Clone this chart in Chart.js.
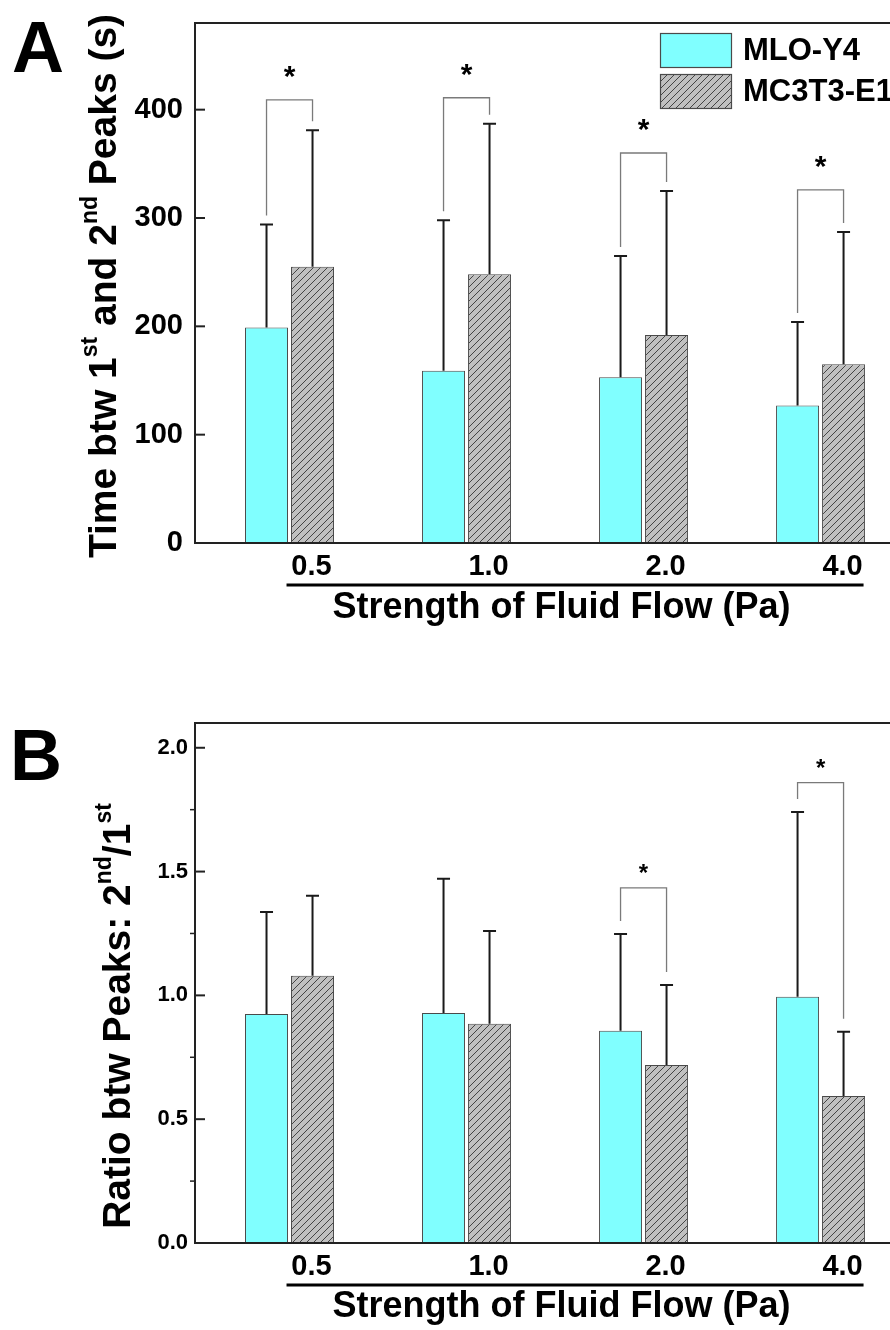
<!DOCTYPE html>
<html><head><meta charset="utf-8">
<script src="https://cdn.jsdelivr.net/npm/chart.js@4.4.0/dist/chart.umd.min.js"></script>
<style>
html,body{margin:0;padding:0;overflow:hidden;background:#fff;width:890px;height:1330px;}
#wrap{position:relative;width:890px;height:1330px;overflow:hidden;}
canvas{position:absolute;left:0;}
#cA{top:0;}
#cB{top:660px;}
.plab{position:absolute;font-family:"Liberation Sans",Arial,sans-serif;font-weight:bold;font-size:72px;line-height:72px;color:#000;}
</style></head>
<body><div id="wrap">
<canvas id="cA" width="930" height="650"></canvas>
<canvas id="cB" width="930" height="670"></canvas>
<div class="plab" style="left:12px;top:11px">A</div>
<div class="plab" style="left:10px;top:719px">B</div>
</div>
<script>
// ---------- data ----------
const categories = ['0.5', '1.0', '2.0', '4.0'];
const seriesNames = ['MLO-Y4', 'MC3T3-E1'];
const xTitle = 'Strength of Fluid Flow (Pa)';

const timeMLO = [199, 159, 153, 127];
const timeMLOErr = [95, 139, 112, 77];
const timeMC3 = [255, 248, 192, 165];
const timeMC3Err = [126, 139, 133, 122];
const timeSigLevel = [409, 411, 360, 326];
const timeTicks = [0, 100, 200, 300, 400];

const ratioMLO = [0.925, 0.929, 0.857, 0.994];
const ratioMLOErr = [0.412, 0.542, 0.391, 0.747];
const ratioMC3 = [1.079, 0.885, 0.719, 0.594];
const ratioMC3Err = [0.323, 0.375, 0.323, 0.259];
const ratioSigLevel = [null, null, 1.434, 1.859];
const ratioTicks = [0, 0.5, 1.0, 1.5, 2.0];
const ratioMinorTicks = [0.25, 0.75, 1.25, 1.75];

const yTitleA = [['Time btw 1', 0], ['st', 1], [' and 2', 0], ['nd', 1], [' Peaks (s)', 0]];
const yTitleB = [['Ratio btw Peaks: 2', 0], ['nd', 1], ['/1', 0], ['st', 1]];

// ---------- style ----------
const FF = '"Liberation Sans", Arial, Helvetica, sans-serif';
const CYAN = '#80ffff';

function makeHatch(ctx) {
  const s = 7;
  const c = document.createElement('canvas'); c.width = s; c.height = s;
  const g = c.getContext('2d');
  g.fillStyle = '#c0c0c0'; g.fillRect(0, 0, s, s);
  g.strokeStyle = '#444'; g.lineWidth = 1;
  g.beginPath();
  g.moveTo(-1, s + 1); g.lineTo(s + 1, -1);
  g.moveTo(-2, 2); g.lineTo(2, -2);
  g.moveTo(s - 2, s + 2); g.lineTo(s + 2, s - 2);
  g.stroke();
  return ctx.createPattern(c, 'repeat');
}

const decor = {
  id: 'decor',
  afterDatasetsDraw(chart, args, o) {
    const ctx = chart.ctx, ca = chart.chartArea, ys = chart.scales.y, xs = chart.scales.x;
    ctx.save();
    // frame
    ctx.strokeStyle = '#222'; ctx.lineWidth = 2; ctx.lineCap = 'butt';
    ctx.beginPath();
    ctx.moveTo(ca.right + 5, ca.top); ctx.lineTo(ca.left, ca.top); ctx.lineTo(ca.left, ca.bottom); ctx.lineTo(ca.right + 5, ca.bottom);
    ctx.stroke();
    // major ticks (inside)
    o.majorTicks.forEach(v => {
      const y = ys.getPixelForValue(v);
      ctx.beginPath(); ctx.moveTo(ca.left, y); ctx.lineTo(ca.left + 10, y); ctx.stroke();
    });
    // minor ticks (outside)
    ctx.lineWidth = 1.5;
    (o.minorTicks || []).forEach(v => {
      const y = ys.getPixelForValue(v);
      ctx.beginPath(); ctx.moveTo(ca.left - 5, y); ctx.lineTo(ca.left, y); ctx.stroke();
    });
    // error bars
    ctx.strokeStyle = '#1a1a1a'; ctx.lineWidth = 2;
    chart.data.datasets.forEach((ds, di) => {
      const meta = chart.getDatasetMeta(di);
      meta.data.forEach((bar, j) => {
        const top = ys.getPixelForValue(ds.data[j].y + ds.errors[j]);
        ctx.beginPath();
        ctx.moveTo(bar.x, bar.y); ctx.lineTo(bar.x, top);
        ctx.moveTo(bar.x - 6.5, top); ctx.lineTo(bar.x + 6.5, top);
        ctx.stroke();
      });
    });
    // significance brackets
    const d0 = chart.data.datasets[0], d1 = chart.data.datasets[1];
    o.sig.forEach((lvl, j) => {
      if (lvl == null) return;
      const b0 = chart.getDatasetMeta(0).data[j], b1 = chart.getDatasetMeta(1).data[j];
      const yTop = ys.getPixelForValue(lvl);
      const y0 = ys.getPixelForValue(d0.data[j].y + d0.errors[j]) - o.gap;
      const y1 = ys.getPixelForValue(d1.data[j].y + d1.errors[j]) - o.gap;
      ctx.strokeStyle = '#7a7a7a'; ctx.lineWidth = 1.3;
      ctx.beginPath();
      ctx.moveTo(b0.x, y0); ctx.lineTo(b0.x, yTop); ctx.lineTo(b1.x, yTop); ctx.lineTo(b1.x, y1);
      ctx.stroke();
      ctx.fillStyle = '#000';
      ctx.font = 'bold ' + o.starSize + 'px ' + FF;
      ctx.textAlign = 'center'; ctx.textBaseline = 'alphabetic';
      ctx.fillText('*', (b0.x + b1.x) / 2, yTop - o.starDist + 0.58 * o.starSize);
    });
    // underline below category labels
    const lx0 = xs.getPixelForValue(1) + 22 - 25, lx1 = xs.getPixelForValue(categories.length) + 22 + 21;
    ctx.strokeStyle = '#000'; ctx.lineWidth = 3;
    ctx.beginPath(); ctx.moveTo(lx0, ca.bottom + 42); ctx.lineTo(lx1, ca.bottom + 42); ctx.stroke();
    ctx.restore();
  },
  afterDraw(chart, args, o) {
    const ctx = chart.ctx;
    ctx.save();
    // legend
    if (o.legend) {
      const L = o.legend;
      chart.data.datasets.forEach((ds, i) => {
        const y = L.y + i * L.step;
        ctx.fillStyle = ds.backgroundColor;
        ctx.fillRect(L.x, y, L.w, L.h);
        ctx.strokeStyle = '#4a4a4a'; ctx.lineWidth = 1.2;
        ctx.strokeRect(L.x + 0.5, y + 0.5, L.w - 1, L.h - 1);
        ctx.fillStyle = '#000';
        ctx.font = 'bold ' + L.size + 'px ' + FF;
        ctx.textAlign = 'left'; ctx.textBaseline = 'middle';
        ctx.fillText(ds.label, L.tx, y + L.h / 2 + 1);
      });
    }
    // rotated y-axis title with superscripts
    const T = o.ytitle;
    const mainF = 'bold ' + T.size + 'px ' + FF, supF = 'bold ' + T.sup + 'px ' + FF;
    let total = 0;
    T.parts.forEach(p => { ctx.font = p[1] ? supF : mainF; total += ctx.measureText(p[0]).width; });
    ctx.translate(T.x, T.cy);
    ctx.rotate(-Math.PI / 2);
    ctx.fillStyle = '#000'; ctx.textAlign = 'left'; ctx.textBaseline = 'alphabetic';
    let cx = -total / 2;
    T.parts.forEach(p => {
      ctx.font = p[1] ? supF : mainF;
      ctx.fillText(p[0], cx, p[1] ? -T.raise : 0);
      cx += ctx.measureText(p[0]).width;
    });
    ctx.restore();
  }
};

function makeChart(id, cfg) {
  const el = document.getElementById(id);
  const ctx = el.getContext('2d');
  const hatch = makeHatch(ctx);
  return new Chart(ctx, {
    type: 'bar',
    data: {
      datasets: [
        { label: seriesNames[0], data: categories.map((c, i) => ({ x: i + 1, y: cfg.s1[i] })), errors: cfg.e1,
          backgroundColor: CYAN, borderColor: '#4a4a4a', borderWidth: 1,
          categoryPercentage: 92 / 177, barPercentage: 43 / 46 },
        { label: seriesNames[1], data: categories.map((c, i) => ({ x: i + 1, y: cfg.s2[i] })), errors: cfg.e2,
          backgroundColor: hatch, borderColor: '#4a4a4a', borderWidth: 1,
          categoryPercentage: 92 / 177, barPercentage: 43 / 46 }
      ]
    },
    options: {
      responsive: false, animation: false,
      layout: { padding: { top: cfg.top, right: 2, bottom: 0, left: 0 } },
      plugins: {
        legend: { display: false }, tooltip: { enabled: false },
        decor: { majorTicks: cfg.ticks, minorTicks: cfg.minor, sig: cfg.sig, gap: cfg.gap,
                 starSize: cfg.starSize, starDist: cfg.starDist, legend: cfg.legend, ytitle: cfg.ytitle }
      },
      scales: {
        x: {
          type: 'linear', min: 0.466, max: 4.607, offset: false,
          grid: { display: false, drawTicks: false, offset: false }, border: { display: false },
          afterBuildTicks: s => { s.ticks = categories.map((c, i) => ({ value: i + 1 })); },
          afterFit: s => { s.height = cfg.xh; s.paddingLeft = 0; s.paddingRight = 0; },
          ticks: { callback: (v, i) => categories[i], labelOffset: 22, padding: 7, autoSkip: false, maxRotation: 0,
                   color: '#000', font: { family: FF, weight: 'bold', size: 29 } },
          title: { display: true, text: xTitle, color: '#000',
                   font: { family: FF, weight: 'bold', size: 36, lineHeight: 1.1 },
                   padding: { top: 0, bottom: cfg.titlePad } }
        },
        y: {
          min: 0, max: cfg.max,
          grid: { display: false, drawTicks: false }, border: { display: false },
          afterBuildTicks: s => { s.ticks = cfg.ticks.map(v => ({ value: v })); },
          afterFit: s => { s.width = 195; s.paddingTop = 0; s.paddingBottom = 0; },
          ticks: { callback: cfg.fmt, padding: cfg.ypad, color: '#000',
                   font: { family: FF, weight: 'bold', size: cfg.ysize } }
        }
      }
    },
    plugins: [decor]
  });
}

makeChart('cA', {
  s1: timeMLO, e1: timeMLOErr, s2: timeMC3, e2: timeMC3Err, sig: timeSigLevel,
  ticks: timeTicks, minor: [], max: 480, fmt: v => String(v), ypad: 12, ysize: 29,
  top: 23, xh: 107, titlePad: 22, gap: 9, starSize: 30, starDist: 31,
  legend: { x: 660, y: 33, w: 72, h: 35, step: 41, tx: 743, size: 31 },
  ytitle: { parts: yTitleA, x: 116, cy: 286, size: 39, sup: 23, raise: 19 }
});
makeChart('cB', {
  s1: ratioMLO, e1: ratioMLOErr, s2: ratioMC3, e2: ratioMC3Err, sig: ratioSigLevel,
  ticks: ratioTicks, minor: ratioMinorTicks, max: 2.1, fmt: v => v.toFixed(1), ypad: 7, ysize: 22,
  top: 63, xh: 87, titlePad: 3, gap: 13, starSize: 24, starDist: 21,
  legend: null,
  ytitle: { parts: yTitleB, x: 130, cy: 356, size: 39, sup: 23, raise: 19 }
});
</script>
</body></html>
